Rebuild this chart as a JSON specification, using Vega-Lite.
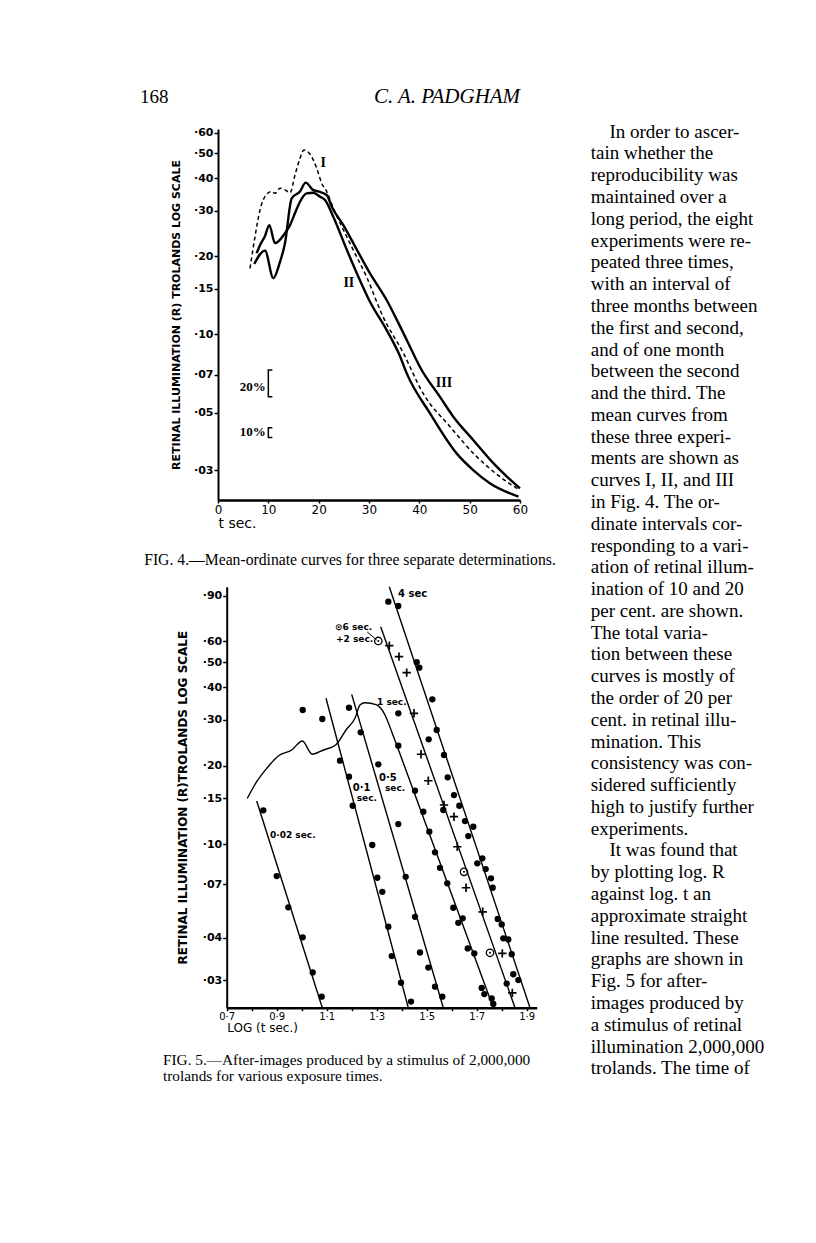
{
  "$schema": "https://vega.github.io/schema/vega-lite/v6.json",
  "width": 816,
  "height": 1243,
  "autosize": {"type": "none"},
  "padding": 0,
  "background": "white",
  "config": {
    "view": {"stroke": null},
    "axis": {"grid": false, "domainColor": "black", "tickColor": "black", "labelColor": "black", "titleColor": "black", "labelOverlap": false, "labelFlush": false, "labelBound": false}
  },
  "datasets": {
    "fig4_curves": [
      {"curve": "I", "t": 6.36, "R": 0.180}, {"curve": "I", "t": 7.35, "R": 0.238}, {"curve": "I", "t": 8.34, "R": 0.302}, {"curve": "I", "t": 9.54, "R": 0.345},
      {"curve": "I", "t": 10.67, "R": 0.356}, {"curve": "I", "t": 11.33, "R": 0.350}, {"curve": "I", "t": 12.32, "R": 0.366}, {"curve": "I", "t": 13.31, "R": 0.361},
      {"curve": "I", "t": 14.31, "R": 0.352}, {"curve": "I", "t": 15.30, "R": 0.412}, {"curve": "I", "t": 16.29, "R": 0.478}, {"curve": "I", "t": 17.09, "R": 0.514},
      {"curve": "I", "t": 18.14, "R": 0.500}, {"curve": "I", "t": 19.61, "R": 0.438}, {"curve": "I", "t": 20.6, "R": 0.383}, {"curve": "I", "t": 21.6, "R": 0.356},
      {"curve": "I", "t": 22.8, "R": 0.311}, {"curve": "I", "t": 26.2, "R": 0.225}, {"curve": "I", "t": 29.5, "R": 0.167}, {"curve": "I", "t": 32.8, "R": 0.117},
      {"curve": "I", "t": 36.8, "R": 0.0849}, {"curve": "I", "t": 40.7, "R": 0.0595}, {"curve": "I", "t": 46.1, "R": 0.0441}, {"curve": "I", "t": 51.4, "R": 0.0338},
      {"curve": "I", "t": 56.0, "R": 0.0283}, {"curve": "I", "t": 59.7, "R": 0.0253},
      {"curve": "II", "t": 7.69, "R": 0.206}, {"curve": "II", "t": 8.34, "R": 0.221}, {"curve": "II", "t": 9.34, "R": 0.240}, {"curve": "II", "t": 10.19, "R": 0.264},
      {"curve": "II", "t": 11.33, "R": 0.225}, {"curve": "II", "t": 13.31, "R": 0.246}, {"curve": "II", "t": 14.31, "R": 0.264}, {"curve": "II", "t": 15.30, "R": 0.294},
      {"curve": "II", "t": 16.29, "R": 0.325}, {"curve": "II", "t": 17.62, "R": 0.350}, {"curve": "II", "t": 18.88, "R": 0.352}, {"curve": "II", "t": 20.27, "R": 0.340},
      {"curve": "II", "t": 21.26, "R": 0.330}, {"curve": "II", "t": 22.9, "R": 0.2846}, {"curve": "II", "t": 25.6, "R": 0.212}, {"curve": "II", "t": 27.6, "R": 0.172},
      {"curve": "II", "t": 30.2, "R": 0.1337}, {"curve": "II", "t": 33.5, "R": 0.104}, {"curve": "II", "t": 36.2, "R": 0.0821}, {"curve": "II", "t": 37.5, "R": 0.0708},
      {"curve": "II", "t": 42.1, "R": 0.0497}, {"curve": "II", "t": 47.4, "R": 0.0348}, {"curve": "II", "t": 50.7, "R": 0.030}, {"curve": "II", "t": 54.0, "R": 0.0267},
      {"curve": "II", "t": 59.7, "R": 0.0237},
      {"curve": "III", "t": 7.2, "R": 0.187}, {"curve": "III", "t": 9.34, "R": 0.2105}, {"curve": "III", "t": 10.99, "R": 0.165}, {"curve": "III", "t": 12.3, "R": 0.190},
      {"curve": "III", "t": 13.31, "R": 0.225}, {"curve": "III", "t": 14.64, "R": 0.335}, {"curve": "III", "t": 16.29, "R": 0.356}, {"curve": "III", "t": 17.42, "R": 0.385},
      {"curve": "III", "t": 18.88, "R": 0.361}, {"curve": "III", "t": 19.93, "R": 0.356}, {"curve": "III", "t": 21.6, "R": 0.345}, {"curve": "III", "t": 22.6, "R": 0.311},
      {"curve": "III", "t": 24.9, "R": 0.264}, {"curve": "III", "t": 27.6, "R": 0.212}, {"curve": "III", "t": 30.2, "R": 0.172}, {"curve": "III", "t": 33.5, "R": 0.1358},
      {"curve": "III", "t": 36.2, "R": 0.1072}, {"curve": "III", "t": 39.1, "R": 0.0821}, {"curve": "III", "t": 40.1, "R": 0.0751}, {"curve": "III", "t": 44.1, "R": 0.0575},
      {"curve": "III", "t": 46.75, "R": 0.0482}, {"curve": "III", "t": 50.7, "R": 0.0392}, {"curve": "III", "t": 54.7, "R": 0.0319}, {"curve": "III", "t": 57.4, "R": 0.0283},
      {"curve": "III", "t": 60.0, "R": 0.0255}
    ],
    "fig4_brackets": [
      {"interval": "20%", "k": 1, "t": 10.8, "R": 0.073}, {"interval": "20%", "k": 2, "t": 10.0, "R": 0.073},
      {"interval": "20%", "k": 3, "t": 10.0, "R": 0.0575}, {"interval": "20%", "k": 4, "t": 10.8, "R": 0.0575},
      {"interval": "10%", "k": 1, "t": 10.8, "R": 0.0437}, {"interval": "10%", "k": 2, "t": 10.0, "R": 0.0437},
      {"interval": "10%", "k": 3, "t": 10.0, "R": 0.0401}, {"interval": "10%", "k": 4, "t": 10.8, "R": 0.0401}
    ],
    "fig4_labels": [
      {"label": "I", "t": 20.9, "R": 0.458},
      {"label": "II", "t": 26.0, "R": 0.158},
      {"label": "III", "t": 44.9, "R": 0.065}
    ],
    "fig4_intervals": [
      {"label": "20%", "t": 9.5, "R": 0.0627},
      {"label": "10%", "t": 9.5, "R": 0.0421}
    ],
    "fig5_lines": [
      {"exposure": "0·02 sec", "logt": 0.82, "R": 0.1463}, {"exposure": "0·02 sec", "logt": 1.0824, "R": 0.0235},
      {"exposure": "0·1 sec", "logt": 1.0972, "R": 0.3631}, {"exposure": "0·1 sec", "logt": 1.4264, "R": 0.0235},
      {"exposure": "0·5 sec", "logt": 1.2, "R": 0.3759}, {"exposure": "0·5 sec", "logt": 1.5664, "R": 0.0235},
      {"exposure": "1 sec", "logt": 0.7824, "R": 0.1498}, {"exposure": "1 sec", "logt": 0.82, "R": 0.1736},
      {"exposure": "1 sec", "logt": 0.86, "R": 0.1953}, {"exposure": "1 sec", "logt": 0.9064, "R": 0.2179},
      {"exposure": "1 sec", "logt": 0.96, "R": 0.2297}, {"exposure": "1 sec", "logt": 1.0024, "R": 0.2488},
      {"exposure": "1 sec", "logt": 1.0424, "R": 0.2212}, {"exposure": "1 sec", "logt": 1.0864, "R": 0.2297},
      {"exposure": "1 sec", "logt": 1.136, "R": 0.2401}, {"exposure": "1 sec", "logt": 1.18, "R": 0.2766},
      {"exposure": "1 sec", "logt": 1.2132, "R": 0.3041}, {"exposure": "1 sec", "logt": 1.2332, "R": 0.3421},
      {"exposure": "1 sec", "logt": 1.2532, "R": 0.3491}, {"exposure": "1 sec", "logt": 1.30, "R": 0.3421},
      {"exposure": "1 sec", "logt": 1.3332, "R": 0.3131}, {"exposure": "1 sec", "logt": 1.36, "R": 0.27},
      {"exposure": "1 sec", "logt": 1.38, "R": 0.2401}, {"exposure": "1 sec", "logt": 1.7664, "R": 0.0235},
      {"exposure": "2 sec", "logt": 1.316, "R": 0.684}, {"exposure": "2 sec", "logt": 1.8532, "R": 0.0235},
      {"exposure": "4 sec", "logt": 1.3504, "R": 0.974}, {"exposure": "4 sec", "logt": 1.9132, "R": 0.0235}
    ],
    "fig5_points": [
      {"marker": "dot", "exposure": "0·02 sec", "logt": 0.8464, "R": 0.1347},
      {"marker": "dot", "exposure": "0·02 sec", "logt": 0.90, "R": 0.0753},
      {"marker": "dot", "exposure": "0·02 sec", "logt": 0.9464, "R": 0.0571},
      {"marker": "dot", "exposure": "0·02 sec", "logt": 1.004, "R": 0.0438},
      {"marker": "dot", "exposure": "0·02 sec", "logt": 1.044, "R": 0.0321},
      {"marker": "dot", "exposure": "0·02 sec", "logt": 1.08, "R": 0.0259},
      {"marker": "dot", "exposure": "0·1 sec", "logt": 1.004, "R": 0.3273},
      {"marker": "dot", "exposure": "0·1 sec", "logt": 1.0824, "R": 0.3022},
      {"marker": "dot", "exposure": "0·5 sec", "logt": 1.1892, "R": 0.3341},
      {"marker": "dot", "exposure": "0·1 sec", "logt": 1.1532, "R": 0.2090},
      {"marker": "dot", "exposure": "0·1 sec", "logt": 1.1892, "R": 0.1814},
      {"marker": "dot", "exposure": "0·1 sec", "logt": 1.204, "R": 0.1403},
      {"marker": "dot", "exposure": "4 sec", "logt": 1.3464, "R": 0.8533},
      {"marker": "dot", "exposure": "4 sec", "logt": 1.3864, "R": 0.8213},
      {"marker": "dot", "exposure": "4 sec", "logt": 1.46, "R": 0.4991},
      {"marker": "dot", "exposure": "4 sec", "logt": 1.4704, "R": 0.4759},
      {"marker": "dot", "exposure": "4 sec", "logt": 1.5224, "R": 0.3597},
      {"marker": "dot", "exposure": "1 sec", "logt": 1.3864, "R": 0.3178},
      {"marker": "dot", "exposure": "0·5 sec", "logt": 1.236, "R": 0.2686},
      {"marker": "dot", "exposure": "4 sec", "logt": 1.54, "R": 0.2742},
      {"marker": "dot", "exposure": "2 sec", "logt": 1.508, "R": 0.2525},
      {"marker": "dot", "exposure": "1 sec", "logt": 1.3864, "R": 0.2386},
      {"marker": "dot", "exposure": "4 sec", "logt": 1.5692, "R": 0.2198},
      {"marker": "dot", "exposure": "0·5 sec", "logt": 1.3064, "R": 0.2024},
      {"marker": "dot", "exposure": "4 sec", "logt": 1.584, "R": 0.1804},
      {"marker": "dot", "exposure": "1 sec", "logt": 1.4532, "R": 0.1602},
      {"marker": "dot", "exposure": "4 sec", "logt": 1.6092, "R": 0.1542},
      {"marker": "dot", "exposure": "4 sec", "logt": 1.6304, "R": 0.1403},
      {"marker": "dot", "exposure": "1 sec", "logt": 1.4864, "R": 0.133},
      {"marker": "dot", "exposure": "2 sec", "logt": 1.5664, "R": 0.1351},
      {"marker": "dot", "exposure": "4 sec", "logt": 1.6532, "R": 0.1225},
      {"marker": "dot", "exposure": "0·5 sec", "logt": 1.3864, "R": 0.1193},
      {"marker": "dot", "exposure": "4 sec", "logt": 1.6864, "R": 0.1165},
      {"marker": "dot", "exposure": "4 sec", "logt": 1.6664, "R": 0.1073},
      {"marker": "dot", "exposure": "0·1 sec", "logt": 1.2824, "R": 0.0991},
      {"marker": "dot", "exposure": "1 sec", "logt": 1.5104, "R": 0.1115},
      {"marker": "dot", "exposure": "1 sec", "logt": 1.5332, "R": 0.0929},
      {"marker": "dot", "exposure": "0·1 sec", "logt": 1.3024, "R": 0.0742},
      {"marker": "dot", "exposure": "0·1 sec", "logt": 1.3224, "R": 0.0655},
      {"marker": "dot", "exposure": "0·5 sec", "logt": 1.416, "R": 0.0748},
      {"marker": "dot", "exposure": "1 sec", "logt": 1.5532, "R": 0.081},
      {"marker": "dot", "exposure": "4 sec", "logt": 1.7024, "R": 0.0843},
      {"marker": "dot", "exposure": "4 sec", "logt": 1.7224, "R": 0.0881},
      {"marker": "dot", "exposure": "4 sec", "logt": 1.736, "R": 0.0801},
      {"marker": "dot", "exposure": "1 sec", "logt": 1.5824, "R": 0.0706},
      {"marker": "dot", "exposure": "4 sec", "logt": 1.7572, "R": 0.0738},
      {"marker": "dot", "exposure": "4 sec", "logt": 1.764, "R": 0.0679},
      {"marker": "dot", "exposure": "1 sec", "logt": 1.6064, "R": 0.0569},
      {"marker": "dot", "exposure": "1 sec", "logt": 1.6264, "R": 0.0498},
      {"marker": "dot", "exposure": "1 sec", "logt": 1.644, "R": 0.0518},
      {"marker": "dot", "exposure": "0·5 sec", "logt": 1.4532, "R": 0.0525},
      {"marker": "dot", "exposure": "0·1 sec", "logt": 1.3464, "R": 0.0481},
      {"marker": "dot", "exposure": "4 sec", "logt": 1.784, "R": 0.0515},
      {"marker": "dot", "exposure": "4 sec", "logt": 1.80, "R": 0.0491},
      {"marker": "dot", "exposure": "1 sec", "logt": 1.664, "R": 0.0397},
      {"marker": "dot", "exposure": "1 sec", "logt": 1.6904, "R": 0.038},
      {"marker": "dot", "exposure": "4 sec", "logt": 1.8064, "R": 0.0434},
      {"marker": "dot", "exposure": "4 sec", "logt": 1.8264, "R": 0.043},
      {"marker": "dot", "exposure": "4 sec", "logt": 1.84, "R": 0.0377},
      {"marker": "dot", "exposure": "0·1 sec", "logt": 1.36, "R": 0.0371},
      {"marker": "dot", "exposure": "0·5 sec", "logt": 1.4732, "R": 0.0383},
      {"marker": "dot", "exposure": "0·5 sec", "logt": 1.5064, "R": 0.0335},
      {"marker": "dot", "exposure": "4 sec", "logt": 1.8464, "R": 0.0316},
      {"marker": "dot", "exposure": "0·1 sec", "logt": 1.3972, "R": 0.0293},
      {"marker": "dot", "exposure": "1 sec", "logt": 1.72, "R": 0.028},
      {"marker": "dot", "exposure": "1 sec", "logt": 1.7304, "R": 0.0265},
      {"marker": "dot", "exposure": "2 sec", "logt": 1.82, "R": 0.0291},
      {"marker": "dot", "exposure": "4 sec", "logt": 1.8664, "R": 0.030},
      {"marker": "dot", "exposure": "0·5 sec", "logt": 1.5332, "R": 0.0283},
      {"marker": "dot", "exposure": "0·5 sec", "logt": 1.5624, "R": 0.0259},
      {"marker": "dot", "exposure": "0·1 sec", "logt": 1.4372, "R": 0.0248},
      {"marker": "dot", "exposure": "1 sec", "logt": 1.76, "R": 0.0255},
      {"marker": "dot", "exposure": "1 sec", "logt": 1.7664, "R": 0.0243},
      {"marker": "plus", "exposure": "2 sec", "logt": 1.3504, "R": 0.5781},
      {"marker": "plus", "exposure": "2 sec", "logt": 1.3892, "R": 0.5246},
      {"marker": "plus", "exposure": "2 sec", "logt": 1.42, "R": 0.4553},
      {"marker": "plus", "exposure": "2 sec", "logt": 1.4492, "R": 0.3178},
      {"marker": "plus", "exposure": "2 sec", "logt": 1.4772, "R": 0.2212},
      {"marker": "plus", "exposure": "2 sec", "logt": 1.5064, "R": 0.175},
      {"marker": "plus", "exposure": "2 sec", "logt": 1.5692, "R": 0.1412},
      {"marker": "plus", "exposure": "2 sec", "logt": 1.6092, "R": 0.1273},
      {"marker": "plus", "exposure": "2 sec", "logt": 1.6224, "R": 0.0976},
      {"marker": "plus", "exposure": "2 sec", "logt": 1.6572, "R": 0.0679},
      {"marker": "plus", "exposure": "2 sec", "logt": 1.724, "R": 0.0549},
      {"marker": "plus", "exposure": "2 sec", "logt": 1.8024, "R": 0.038},
      {"marker": "plus", "exposure": "2 sec", "logt": 1.8424, "R": 0.0268},
      {"marker": "ring", "exposure": "6 sec", "logt": 1.3064, "R": 0.6026},
      {"marker": "ring", "exposure": "6 sec", "logt": 1.6492, "R": 0.0782},
      {"marker": "ring", "exposure": "6 sec", "logt": 1.7532, "R": 0.0382}
    ],
    "fig5_arrow": [
      {"k": 1, "logt": 1.262, "R": 0.6529},
      {"k": 2, "logt": 1.30, "R": 0.6079}
    ],
    "fig5_labels": [
      {"label": "4 sec", "size": "large", "logt": 1.3852, "R": 0.9134},
      {"label": "⊙6 sec.", "size": "small", "logt": 1.1332, "R": 0.6822},
      {"label": "+2 sec.", "size": "small", "logt": 1.1372, "R": 0.6134},
      {"label": "1 sec.", "size": "small", "logt": 1.3012, "R": 0.3512},
      {"label": "0·5", "size": "large", "logt": 1.3092, "R": 0.1788},
      {"label": "sec.", "size": "small", "logt": 1.3332, "R": 0.1637},
      {"label": "0·1", "size": "large", "logt": 1.204, "R": 0.1645},
      {"label": "sec.", "size": "small", "logt": 1.22, "R": 0.1506},
      {"label": "0·02 sec.", "size": "small", "logt": 0.8732, "R": 0.1082}
    ],
    "body": [
      {"line": 1, "indent": 1, "text": "In order to ascer-"},
      {"line": 2, "indent": 0, "text": "tain whether the"},
      {"line": 3, "indent": 0, "text": "reproducibility was"},
      {"line": 4, "indent": 0, "text": "maintained over a"},
      {"line": 5, "indent": 0, "text": "long period, the eight"},
      {"line": 6, "indent": 0, "text": "experiments were re-"},
      {"line": 7, "indent": 0, "text": "peated three times,"},
      {"line": 8, "indent": 0, "text": "with an interval of"},
      {"line": 9, "indent": 0, "text": "three months between"},
      {"line": 10, "indent": 0, "text": "the first and second,"},
      {"line": 11, "indent": 0, "text": "and of one month"},
      {"line": 12, "indent": 0, "text": "between the second"},
      {"line": 13, "indent": 0, "text": "and the third. The"},
      {"line": 14, "indent": 0, "text": "mean curves from"},
      {"line": 15, "indent": 0, "text": "these three experi-"},
      {"line": 16, "indent": 0, "text": "ments are shown as"},
      {"line": 17, "indent": 0, "text": "curves I, II, and III"},
      {"line": 18, "indent": 0, "text": "in Fig. 4. The or-"},
      {"line": 19, "indent": 0, "text": "dinate intervals cor-"},
      {"line": 20, "indent": 0, "text": "responding to a vari-"},
      {"line": 21, "indent": 0, "text": "ation of retinal illum-"},
      {"line": 22, "indent": 0, "text": "ination of 10 and 20"},
      {"line": 23, "indent": 0, "text": "per cent. are shown."},
      {"line": 24, "indent": 0, "text": "The total varia-"},
      {"line": 25, "indent": 0, "text": "tion between these"},
      {"line": 26, "indent": 0, "text": "curves is mostly of"},
      {"line": 27, "indent": 0, "text": "the order of 20 per"},
      {"line": 28, "indent": 0, "text": "cent. in retinal illu-"},
      {"line": 29, "indent": 0, "text": "mination. This"},
      {"line": 30, "indent": 0, "text": "consistency was con-"},
      {"line": 31, "indent": 0, "text": "sidered sufficiently"},
      {"line": 32, "indent": 0, "text": "high to justify further"},
      {"line": 33, "indent": 0, "text": "experiments."},
      {"line": 34, "indent": 1, "text": "It was found that"},
      {"line": 35, "indent": 0, "text": "by plotting log. R"},
      {"line": 36, "indent": 0, "text": "against log. t an"},
      {"line": 37, "indent": 0, "text": "approximate straight"},
      {"line": 38, "indent": 0, "text": "line resulted. These"},
      {"line": 39, "indent": 0, "text": "graphs are shown in"},
      {"line": 40, "indent": 0, "text": "Fig. 5 for after-"},
      {"line": 41, "indent": 0, "text": "images produced by"},
      {"line": 42, "indent": 0, "text": "a stimulus of retinal"},
      {"line": 43, "indent": 0, "text": "illumination 2,000,000"},
      {"line": 44, "indent": 0, "text": "trolands. The time of"}
    ]
  },
  "layer": [
    {
      "encoding": {
        "x": {
          "field": "t", "type": "quantitative",
          "scale": {"domain": [0, 60], "range": [218, 520], "nice": false, "zero": false},
          "axis": {
            "orient": "bottom", "offset": -743, "values": [0, 10, 20, 30, 40, 50, 60], "format": "d",
            "title": "t sec.", "titleAnchor": "start", "titleFont": "DejaVu Sans", "titleFontSize": 14, "titleFontWeight": "normal", "titlePadding": 1,
            "labelFont": "DejaVu Sans", "labelFontSize": 12, "labelPadding": 1, "tickSize": 3, "tickWidth": 1.5, "domainWidth": 2.5
          }
        },
        "y": {
          "field": "R", "type": "quantitative",
          "scale": {"type": "log", "domain": [0.023, 0.62], "range": [500, 129], "nice": false},
          "axis": {
            "orient": "left", "offset": -218, "values": [0.6, 0.5, 0.4, 0.3, 0.2, 0.15, 0.1, 0.07, 0.05, 0.03],
            "labelExpr": "'·' + slice(format(datum.value, '.2f'), 2)",
            "title": "RETINAL  ILLUMINATION  (R)  TROLANDS  LOG  SCALE", "titleX": -37,
            "titleFont": "DejaVu Sans", "titleFontSize": 11, "titleFontWeight": "bold",
            "labelFont": "DejaVu Sans", "labelFontSize": 11, "labelFontWeight": "bold", "labelPadding": 1,
            "tickSize": 4, "tickWidth": 1.5, "domainWidth": 2
          }
        }
      },
      "layer": [
        {
          "data": {"name": "fig4_curves"},
          "transform": [{"filter": "datum.curve !== 'I'"}],
          "mark": {"type": "line", "color": "black", "strokeWidth": 2.4, "interpolate": "monotone"},
          "encoding": {"detail": {"field": "curve", "type": "nominal"}}
        },
        {
          "data": {"name": "fig4_curves"},
          "transform": [{"filter": "datum.curve === 'I'"}],
          "mark": {"type": "line", "color": "black", "strokeWidth": 1.5, "strokeDash": [4, 3], "interpolate": "monotone"}
        },
        {
          "data": {"name": "fig4_brackets"},
          "mark": {"type": "line", "color": "black", "strokeWidth": 1.5},
          "encoding": {"detail": {"field": "interval", "type": "nominal"}, "order": {"field": "k", "type": "quantitative"}}
        },
        {
          "data": {"name": "fig4_labels"},
          "mark": {"type": "text", "font": "Liberation Serif", "fontWeight": "bold", "fontSize": 14, "align": "center", "baseline": "middle", "color": "black"},
          "encoding": {"text": {"field": "label"}}
        },
        {
          "data": {"name": "fig4_intervals"},
          "mark": {"type": "text", "font": "Liberation Serif", "fontWeight": "bold", "fontSize": 13, "align": "right", "baseline": "middle", "color": "black"},
          "encoding": {"text": {"field": "label"}}
        }
      ]
    },
    {
      "encoding": {
        "x": {
          "field": "logt", "type": "quantitative",
          "scale": {"domain": [0.7, 1.94], "range": [226.7, 536.7], "nice": false, "zero": false},
          "axis": {
            "orient": "bottom", "offset": -235.3, "values": [0.7, 0.8, 0.9, 1.0, 1.1, 1.2, 1.3, 1.4, 1.5, 1.6, 1.7, 1.8, 1.9],
            "labelExpr": "indexof(['0.7','0.9','1.1','1.3','1.5','1.7','1.9'], format(datum.value, '.1f')) >= 0 ? replace(format(datum.value, '.1f'), '.', '·') : ''",
            "title": "LOG (t sec.)", "titleAnchor": "start", "titleFont": "DejaVu Sans", "titleFontSize": 12, "titleFontWeight": "normal", "titlePadding": 1,
            "labelFont": "DejaVu Sans", "labelFontSize": 10, "labelPadding": 1, "tickSize": 3, "tickWidth": 1.5, "domainWidth": 2.5
          }
        },
        "y": {
          "field": "R", "type": "quantitative",
          "scale": {"type": "log", "domain": [0.0235, 0.974], "range": [1007.7, 586.7], "nice": false},
          "axis": {
            "orient": "left", "offset": -226.7, "values": [0.9, 0.6, 0.5, 0.4, 0.3, 0.2, 0.15, 0.1, 0.07, 0.0437, 0.03],
            "labelExpr": "'·' + slice(format(datum.value, '.2f'), 2)",
            "title": "RETINAL  ILLUMINATION  (R)TROLANDS  LOG  SCALE", "titleX": -37,
            "titleFont": "DejaVu Sans", "titleFontSize": 12, "titleFontWeight": "bold",
            "labelFont": "DejaVu Sans", "labelFontSize": 11, "labelFontWeight": "bold", "labelPadding": 1,
            "tickSize": 4, "tickWidth": 1.5, "domainWidth": 2
          }
        }
      },
      "layer": [
        {
          "data": {"name": "fig5_lines"},
          "mark": {"type": "line", "color": "black", "strokeWidth": 1.4, "interpolate": "monotone"},
          "encoding": {"detail": {"field": "exposure", "type": "nominal"}}
        },
        {
          "data": {"name": "fig5_points"},
          "transform": [{"filter": "datum.marker === 'dot'"}],
          "mark": {"type": "point", "shape": "circle", "filled": true, "color": "black", "size": 40, "opacity": 1}
        },
        {
          "data": {"name": "fig5_points"},
          "transform": [{"filter": "datum.marker === 'plus'"}],
          "mark": {"type": "point", "shape": "M-1,0L1,0M0,-1L0,1", "filled": false, "color": "black", "strokeWidth": 1.7, "size": 70, "opacity": 1}
        },
        {
          "data": {"name": "fig5_points"},
          "transform": [{"filter": "datum.marker === 'ring'"}],
          "mark": {"type": "point", "shape": "circle", "filled": false, "color": "black", "strokeWidth": 1.3, "size": 55, "opacity": 1}
        },
        {
          "data": {"name": "fig5_points"},
          "transform": [{"filter": "datum.marker === 'ring'"}],
          "mark": {"type": "point", "shape": "circle", "filled": true, "color": "black", "size": 4, "opacity": 1}
        },
        {
          "data": {"name": "fig5_arrow"},
          "mark": {"type": "line", "color": "black", "strokeWidth": 1},
          "encoding": {"order": {"field": "k", "type": "quantitative"}}
        },
        {
          "data": {"name": "fig5_labels"},
          "transform": [{"filter": "datum.size === 'large'"}],
          "mark": {"type": "text", "font": "DejaVu Sans", "fontWeight": "bold", "fontSize": 10, "align": "left", "baseline": "middle", "color": "black"},
          "encoding": {"text": {"field": "label"}}
        },
        {
          "data": {"name": "fig5_labels"},
          "transform": [{"filter": "datum.size === 'small'"}],
          "mark": {"type": "text", "font": "DejaVu Sans", "fontWeight": "bold", "fontSize": 9, "align": "left", "baseline": "middle", "color": "black"},
          "encoding": {"text": {"field": "label"}}
        }
      ]
    },
    {
      "data": {"values": [{"block": "folio", "line": 1, "text": "168"}]},
      "mark": {"type": "text", "font": "Liberation Serif", "fontSize": 19, "align": "left", "baseline": "middle", "color": "black"},
      "encoding": {
        "x": {"field": "block", "type": "nominal", "scale": {"type": "point", "range": [140, 140], "padding": 0}, "axis": null},
        "y": {"field": "line", "type": "ordinal", "scale": {"type": "point", "range": [97, 97], "padding": 0}, "axis": null},
        "text": {"field": "text"}
      }
    },
    {
      "data": {"values": [{"block": "running head", "line": 1, "text": "C. A. PADGHAM"}]},
      "mark": {"type": "text", "font": "Liberation Serif", "fontSize": 21, "fontStyle": "italic", "align": "center", "baseline": "middle", "color": "black"},
      "encoding": {
        "x": {"field": "block", "type": "nominal", "scale": {"type": "point", "range": [447, 447], "padding": 0}, "axis": null},
        "y": {"field": "line", "type": "ordinal", "scale": {"type": "point", "range": [97, 97], "padding": 0}, "axis": null},
        "text": {"field": "text"}
      }
    },
    {
      "data": {"values": [{"block": "fig4 caption", "line": 1, "text": "FIG. 4.—Mean-ordinate curves for three separate determinations."}]},
      "mark": {"type": "text", "font": "Liberation Serif", "fontSize": 15.7, "align": "center", "baseline": "middle", "color": "black"},
      "encoding": {
        "x": {"field": "block", "type": "nominal", "scale": {"type": "point", "range": [350, 350], "padding": 0}, "axis": null},
        "y": {"field": "line", "type": "ordinal", "scale": {"type": "point", "range": [560, 560], "padding": 0}, "axis": null},
        "text": {"field": "text"}
      }
    },
    {
      "data": {"values": [
        {"block": "fig5 caption", "line": 1, "text": "FIG. 5.—After-images produced by a stimulus of 2,000,000"},
        {"block": "fig5 caption", "line": 2, "text": "trolands for various exposure times."}
      ]},
      "mark": {"type": "text", "font": "Liberation Serif", "fontSize": 15.3, "align": "left", "baseline": "middle", "color": "black"},
      "encoding": {
        "x": {"field": "block", "type": "nominal", "scale": {"type": "point", "range": [163, 163], "padding": 0}, "axis": null},
        "y": {"field": "line", "type": "ordinal", "scale": {"type": "point", "range": [1060, 1075.5], "padding": 0}, "axis": null},
        "text": {"field": "text"}
      }
    },
    {
      "data": {"name": "body"},
      "mark": {"type": "text", "font": "Liberation Serif", "fontSize": 19, "align": "left", "baseline": "middle", "color": "black"},
      "encoding": {
        "x": {"field": "indent", "type": "quantitative", "scale": {"domain": [0, 1], "range": [590.7, 609.4], "nice": false, "zero": false}, "axis": null},
        "y": {"field": "line", "type": "ordinal", "scale": {"type": "point", "range": [131.7, 1068.3], "padding": 0}, "axis": null},
        "text": {"field": "text"}
      }
    }
  ],
  "resolve": {
    "scale": {"x": "independent", "y": "independent"},
    "axis": {"x": "independent", "y": "independent"}
  }
}
